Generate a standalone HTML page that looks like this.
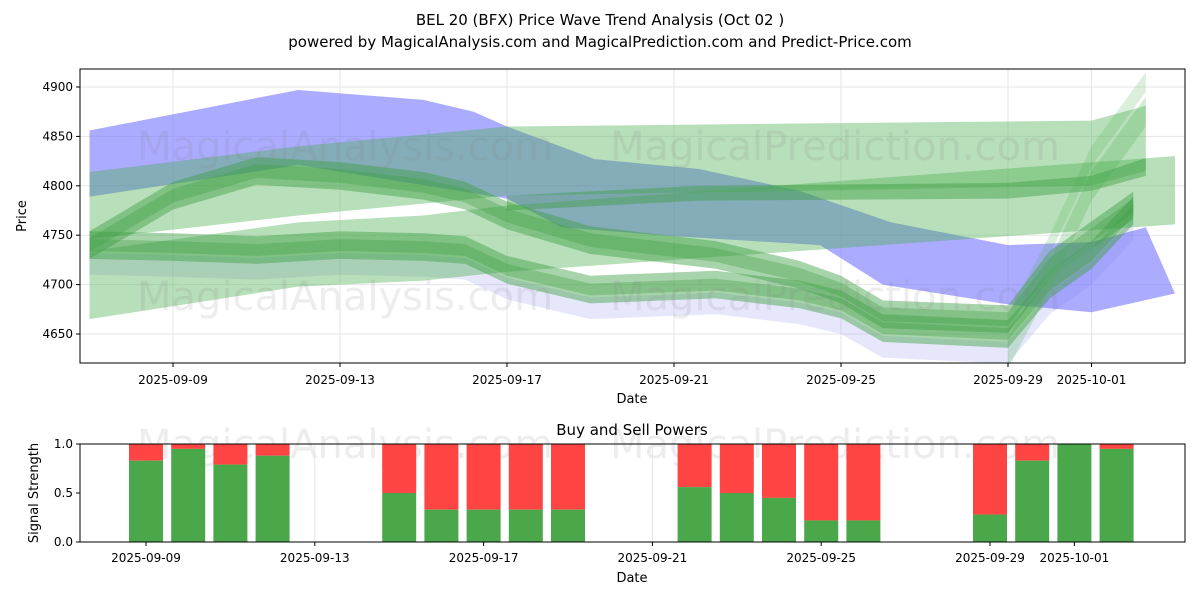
<!DOCTYPE html>
<html><head><meta charset="utf-8"><style>
body{margin:0;background:#fff;font-family:"Liberation Sans","DejaVu Sans",sans-serif}
svg text{font-family:"DejaVu Sans","Liberation Sans",sans-serif}
</style></head><body>
<svg id="chart" width="1200" height="600" xmlns="http://www.w3.org/2000/svg">
<defs><clipPath id="clipTop"><rect x="80" y="69" width="1105" height="294"/></clipPath></defs>
<rect width="1200" height="600" fill="#fff"/>
<text x="600" y="25" text-anchor="middle" font-size="15">BEL 20 (BFX) Price Wave Trend Analysis (Oct 02 )</text>
<text x="600" y="47" text-anchor="middle" font-size="15">powered by MagicalAnalysis.com and MagicalPrediction.com and Predict-Price.com</text>
<g id="topg"></g>
<g id="bot"></g>
</svg>
<script>
const dayLabels=["2025-09-09","2025-09-13","2025-09-17","2025-09-21","2025-09-25","2025-09-29","2025-10-01"];
const dayLabelOffsets=[2,6,10,14,18,22,24];
const priceTicks=[4650,4700,4750,4800,4850,4900];
const blueDays=[0,5,8,9.2,10,12.1,14.6,17,19.2,22,24,25.3,26.0];
const blueUpper=[4856,4897,4887,4875,4860,4827,4817,4795,4763,4740,4743,4758,4691];
const blueLowDays=[0,5,10,11.3,14,17.5,19,22,24,26.0];
const blueLower=[4789,4821,4787,4758,4749,4740,4700,4680,4672,4691];
const topDays=[0,5,10,24,25.3];
const topUpper=[4814,4840,4860,4866,4881];
const topLower=[4746,4770,4790,4800,4815];
const midDays=[10,14.6,22,24,25.3];
const midUpper=[4790,4800,4803,4810,4828];
const midLower=[4775,4785,4787,4795,4810];
const wideDays=[0,5,8,10,26.0];
const wideUpper=[4734,4763,4770,4780,4830];
const wideLower=[4665,4698,4704,4713,4761];
const waveDays=[0,2,4,6,8,9,10,12,15,17,18,19,22,23,24,25];
const waveA=[4740,4790,4815,4810,4800,4790,4770,4745,4730,4710,4695,4670,4665,4720,4750,4780];
const waveB=[4740,4738,4735,4740,4738,4735,4715,4695,4700,4690,4680,4656,4650,4700,4730,4775];
const spikeDays=[22,23,24,25.3];
const spikeVals=[4660,4740,4830,4905];
const barDays=[2,3,4,5,8,9,10,11,12,15,16,17,18,19,22,23,24,25];
const buyPower=[0.83,0.95,0.79,0.88,0.5,0.33,0.33,0.33,0.33,0.56,0.5,0.45,0.22,0.22,0.28,0.83,1.0,0.95];
const NS="http://www.w3.org/2000/svg";
const X=d=>89.5+d*41.75;
const XB=d=>146+(d-2)*42.2;
const Y=v=>87+(4900-v)*0.988;
const YB=v=>542-v*98;
function el(t,a,p){const e=document.createElementNS(NS,t);for(const k in a)e.setAttribute(k,a[k]);p.appendChild(e);return e;}
const topG=document.getElementById('topg'),bot=document.getElementById('bot');
priceTicks.forEach(v=>{const g=el('line',{x1:80,x2:1185,y1:Y(v),y2:Y(v),stroke:'#e6e6e6'},topG);


const t=el('text',{x:73,y:Y(v)+4,'text-anchor':'end','font-size':12},topG);t.textContent=v;

});
dayLabelOffsets.forEach((d,i)=>{el('line',{x1:X(d),x2:X(d),y1:69,y2:363,stroke:'#e6e6e6'},topG);
const t=el('text',{x:X(d),y:384,'text-anchor':'middle','font-size':12},topG);t.textContent=dayLabels[i];


el('line',{x1:XB(d),x2:XB(d),y1:444,y2:542,stroke:'#e6e6e6'},bot);
const t2=el('text',{x:XB(d),y:562,'text-anchor':'middle','font-size':12},bot);t2.textContent=dayLabels[i];

});
const bandG=el('g',{'clip-path':'url(#clipTop)'},topG);


function band2(ud,up,ld,lo,fill,op,name){let pts=ud.map((d,i)=>X(d)+','+Y(up[i]));
for(let i=ld.length-1;i>=0;i--)pts.push(X(ld[i])+','+Y(lo[i]));
const p=el('polygon',{points:pts.join(' '),fill:fill,'fill-opacity':op},bandG);

}
function band(days,up,lo,fill,op,name){band2(days,up,days,lo,fill,op,name);}
band2(blueDays,blueUpper,blueLowDays,blueLower,'#6666ff',0.55,'blue-band');
band(waveDays,waveB.map(v=>v-8),waveB.map(v=>v-30),'#8888ee',0.2,'blue-lower-band');
band(topDays,topUpper,topLower,'#4caf50',0.4,'green-upper-band');
band(wideDays,wideUpper,wideLower,'#4caf50',0.4,'green-trend-band');
band(midDays,midUpper,midLower,'#3f9f45',0.45,'green-mid-band');
[[waveA,14,0.45],[waveA,7,0.35],[waveB,14,0.45],[waveB,6,0.35]].forEach(([w,h,o])=>{
band(waveDays,w.map(v=>v+h),w.map(v=>v-h),'#3f9f45',o,'green-wave-band');});
band(spikeDays,spikeVals.map(v=>v+10),spikeVals.map(v=>v-10),'#4caf50',0.2,'green-spike-band');
band(spikeDays,spikeVals.map(v=>v-15),spikeVals.map(v=>v-45),'#4caf50',0.25,'green-spike-band');
[['MagicalAnalysis.com',345,160],['MagicalPrediction.com',835,160],['MagicalAnalysis.com',345,310],['MagicalPrediction.com',835,310],['MagicalAnalysis.com',345,458],['MagicalPrediction.com',835,458]].forEach(([s,x,y])=>{
const t=el('text',{x:x,y:y,'text-anchor':'middle','font-size':40,fill:'#888','fill-opacity':0.15},topG);t.textContent=s;

});
el('rect',{x:80,y:69,width:1105,height:294,fill:'none',stroke:'#000'},topG);
priceTicks.forEach(v=>el('line',{x1:76,x2:80,y1:Y(v),y2:Y(v),stroke:'#000'},topG));
dayLabelOffsets.forEach(d=>el('line',{x1:X(d),x2:X(d),y1:363,y2:367,stroke:'#000'},topG));
let t=el('text',{x:632,y:403,'text-anchor':'middle','font-size':13},topG);t.textContent='Date';
t=el('text',{x:26,y:216,'text-anchor':'middle','font-size':13,transform:'rotate(-90 26 216)'},topG);t.textContent='Price';
t=el('text',{x:632,y:435,'text-anchor':'middle','font-size':15},bot);t.textContent='Buy and Sell Powers';
barDays.forEach((d,i)=>{const b=buyPower[i];
const r=el('rect',{x:XB(d)-17,y:YB(1),width:34,height:YB(b)-YB(1),fill:'#ff4444'},bot);


const g=el('rect',{x:XB(d)-17,y:YB(b),width:34,height:542-YB(b),fill:'#4aa84a'},bot);

});
el('rect',{x:80,y:444,width:1105,height:98,fill:'none',stroke:'#000'},bot);
[0,0.5,1].forEach(v=>{el('line',{x1:76,x2:80,y1:YB(v),y2:YB(v),stroke:'#000'},bot);
const tt=el('text',{x:73,y:YB(v)+4,'text-anchor':'end','font-size':12},bot);tt.textContent=v.toFixed(1);});
dayLabelOffsets.forEach(d=>el('line',{x1:XB(d),x2:XB(d),y1:542,y2:546,stroke:'#000'},bot));
t=el('text',{x:632,y:582,'text-anchor':'middle','font-size':13},bot);t.textContent='Date';
t=el('text',{x:38,y:493,'text-anchor':'middle','font-size':13,transform:'rotate(-90 38 493)'},bot);t.textContent='Signal Strength';
</script>
</body></html>
